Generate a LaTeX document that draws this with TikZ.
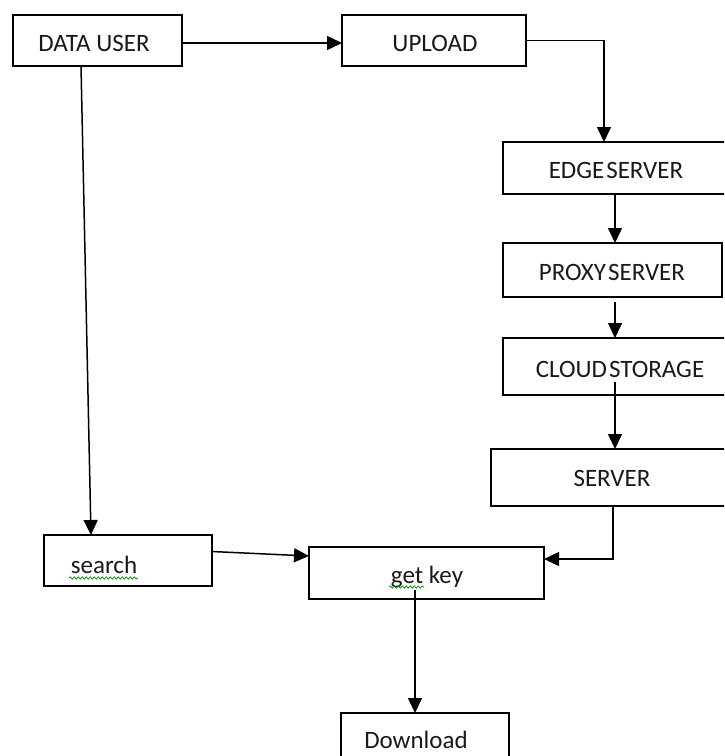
\documentclass[tikz,border=0pt]{standalone}
\usepackage{fontspec}
\setmainfont{Carlito}
\usetikzlibrary{arrows.meta,decorations.pathmorphing}
\begin{document}
\begin{tikzpicture}[x=1pt,y=-1pt,
  box/.style={draw,line width=1.3pt,rectangle,anchor=north west,inner sep=0pt,outer sep=0pt},
  txt/.style={inner sep=0pt,text=black!90,font=\fontsize{25}{30}\selectfont},
  arr/.style={line width=1.5pt,-{Triangle[length=15pt,width=14pt]}},
  squig/.style={draw=green!55!black,line width=0.7pt,decorate,decoration={snake,amplitude=1.2pt,segment length=4pt}}]
\useasboundingbox (0,0) rectangle (724,756);
\clip (0,0) rectangle (724,756);
\node[box,minimum width=169pt,minimum height=51pt] (du) at (13,15) {};
\node[box,minimum width=184pt,minimum height=51pt] (up) at (342,15) {};
\node[box,minimum width=240pt,minimum height=52pt] (es) at (503,142) {};
\node[box,minimum width=219pt,minimum height=54pt] (ps) at (503,243) {};
\node[box,minimum width=240pt,minimum height=57pt] (cs) at (503,338) {};
\node[box,minimum width=250pt,minimum height=57pt] (sv) at (491,449) {};
\node[box,minimum width=168pt,minimum height=51pt] (se) at (44,535) {};
\node[box,minimum width=235pt,minimum height=52pt] (gk) at (309,547) {};
\node[box,minimum width=168pt,minimum height=60pt] (dl) at (341,713) {};
\node[txt] (tdu) at (94,43) {DATA USER};
\node[txt] (tup) at (435,43) {UPLOAD};
\node[txt] (tes) at (616,170) {EDGE\hspace{2pt}SERVER};
\node[txt] (tps) at (612,272) {PROXY\hspace{2pt}SERVER};
\node[txt] (tcs) at (620,369) {CLOUD\hspace{2pt}STORAGE};
\node[txt] (tsv) at (612,478) {SERVER};
\node[txt] (tse) at (104,565) {search};
\node[txt] (tgk) at (427,577) {get key};
\node[txt] (tdl) at (416,740) {Download};
\coordinate (c1) at (604,0);
\coordinate (c2) at (615,0);
\coordinate (c3) at (613,0);
\coordinate (c4) at (81,0);
\coordinate (c5) at (91,0);
\coordinate (c6) at (415,0);
\draw[arr] ([yshift=-2.5pt]du.east) -- ([yshift=-2.5pt]up.west);
\draw[arr] (up.east) -| (es.north -| c1);
\draw[arr] (es.south -| c2) -- (ps.north -| c2);
\draw[arr] ([yshift=-5pt]ps.south -| c2) -- (cs.north -| c2);
\draw[arr] ([yshift=13pt]cs.south -| c2) -- (sv.north -| c2);
\draw[arr] (sv.south -| c3) |- ([yshift=14pt]gk.east);
\draw[arr] (du.south -| c4) -- (se.north -| c5);
\draw[arr] ([yshift=9pt]se.east) -- ([yshift=17pt]gk.west);
\draw[arr] ([yshift=9pt]gk.south -| c6) -- (dl.north -| c6);
\draw[squig] (69,578) -- (138,578);
\draw[squig] (389,587) -- (424,587);
\end{tikzpicture}
\end{document}
